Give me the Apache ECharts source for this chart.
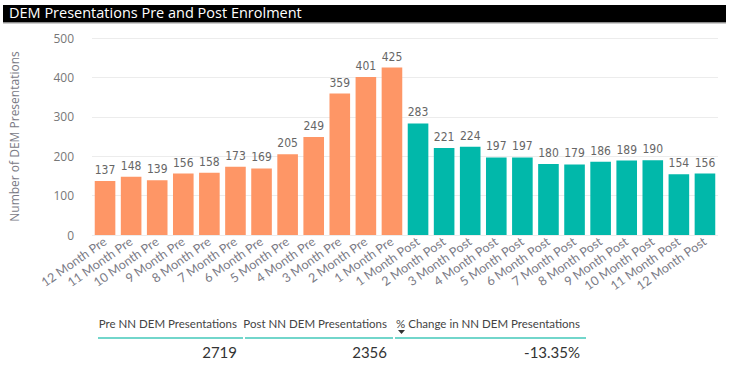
<!DOCTYPE html>
<html>
<head>
<meta charset="utf-8">
<script src="https://cdn.jsdelivr.net/npm/echarts@6/dist/echarts.min.js"></script>
<style>
html,body{margin:0;padding:0;background:#fff;}
#chart{width:734px;height:369px;}
</style>
</head>
<body>
<div id="chart"></div>
<script>
var chartTitle = 'DEM Presentations Pre and Post Enrolment';
var categories = ['12 Month Pre','11 Month Pre','10 Month Pre','9 Month Pre','8 Month Pre','7 Month Pre','6 Month Pre','5 Month Pre','4 Month Pre','3 Month Pre','2 Month Pre','1 Month Pre',
  '1 Month Post','2 Month Post','3 Month Post','4 Month Post','5 Month Post','6 Month Post','7 Month Post','8 Month Post','9 Month Post','10 Month Post','11 Month Post','12 Month Post'];
var values = [137,148,139,156,158,173,169,205,249,359,401,425,
  283,221,224,197,197,180,179,186,189,190,154,156];
var phases = ['Pre','Pre','Pre','Pre','Pre','Pre','Pre','Pre','Pre','Pre','Pre','Pre',
  'Post','Post','Post','Post','Post','Post','Post','Post','Post','Post','Post','Post'];
var yTicks = [0,100,200,300,400,500];
var yAxisTitle = 'Number of DEM Presentations';
var summaryHeaders = ['Pre NN DEM Presentations','Post NN DEM Presentations','% Change in NN DEM Presentations'];
var summaryValues = ['2719','2356','-13.35%'];

var phaseColors = {Pre:'#FE9666', Post:'#01B8AA'};
var font = '"Open Sans", "Noto Sans", sans-serif';
var tableFont = 'Lato, "Open Sans", sans-serif';

var chart = echarts.init(document.getElementById('chart'), null, {renderer:'svg'});

var barData = values.map(function(v,i){
  return {value:v, itemStyle:{color:phaseColors[phases[i]]}};
});

var colRight = [237, 387, 580];
var lineSeg = [[98,243],[245,393],[395,586]];
var graphics = [
  {type:'rect', left:3, top:5, shape:{width:723, height:17.5}, style:{fill:'#000'}},
  {type:'rect', left:3, top:22.5, shape:{width:723, height:1}, style:{fill:'#999'}},
  {type:'text', left:9, top:5, style:{text:chartTitle, fill:'#fff', fontSize:14.5, fontFamily:font}}
];
summaryHeaders.forEach(function(h,i){
  graphics.push({type:'text', x:colRight[i], y:323, style:{text:h, fill:'#444', fontSize:11.5, fontFamily:tableFont, textAlign:'right', textVerticalAlign:'middle'}});
  graphics.push({type:'line', shape:{x1:lineSeg[i][0], y1:338, x2:lineSeg[i][1], y2:338}, style:{stroke:'#72D6CB', lineWidth:2}});
  graphics.push({type:'text', x:colRight[i], y:352, style:{text:summaryValues[i], fill:'#333', fontSize:15, fontFamily:tableFont, textAlign:'right', textVerticalAlign:'middle'}});
});
graphics.push({type:'polygon', shape:{points:[[398,330],[405,330],[401.5,334]]}, style:{fill:'#333'}});

chart.setOption({
  animation:false,
  grid:{left:90, right:16, top:38, bottom:134},
  xAxis:{
    type:'category',
    data:categories,
    axisLine:{show:false},
    axisTick:{show:false},
    axisLabel:{rotate:35, interval:0, color:'#7a7a85', fontSize:12.5, fontFamily:tableFont, margin:5}
  },
  yAxis:{
    type:'value',
    min:yTicks[0], max:yTicks[yTicks.length-1], interval:100,
    name:yAxisTitle, nameLocation:'middle', nameGap:72,
    nameTextStyle:{color:'#7a7a85', fontSize:12, fontFamily:font},
    axisLabel:{color:'#777', fontSize:12, fontFamily:font, margin:18},
    splitLine:{lineStyle:{color:'#ececec', width:1}},
    axisLine:{show:false}, axisTick:{show:false}
  },
  series:[{
    type:'bar',
    data:barData,
    barCategoryGap:'21%',
    label:{show:true, position:'top', color:'#666', fontSize:12, fontFamily:'"DejaVu Sans Condensed", "Noto Sans", sans-serif', distance:5}
  }],
  graphic:graphics
});
</script>
</body>
</html>
